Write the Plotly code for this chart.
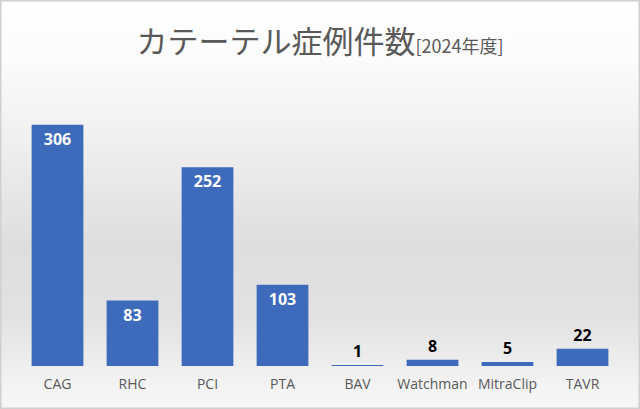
import plotly.graph_objects as go

categories = ["CAG", "RHC", "PCI", "PTA", "BAV", "Watchman", "MitraClip", "TAVR"]
counts = [306, 83, 252, 103, 1, 8, 5, 22]

# labels inside the bar where there is room, above it otherwise
label_pos = ["inside" if v > 50 else "outside" for v in counts]

fig = go.Figure()

# soft grey backdrop (decoration only, on its own full-page axes)
fig.add_trace(go.Scatter(
    x=[0, 1, 1, 0, 0], y=[0, 0, 1, 1, 0],
    mode="lines", line=dict(width=0), fill="toself",
    fillgradient=dict(type="vertical", colorscale=[
        [0.0, "#f7f7f7"], [0.06, "#f3f3f3"], [0.22, "#e2e2e2"],
        [0.4, "#dedede"], [0.65, "#efefef"], [0.85, "#fbfbfb"], [1.0, "#ffffff"]]),
    hoverinfo="skip", showlegend=False,
    xaxis="x", yaxis="y",
))

fig.add_trace(go.Bar(
    x=categories, y=counts,
    marker=dict(color="#3e6abc", line=dict(width=0)),
    text=counts, textposition=label_pos,
    insidetextanchor="end",
    outsidetextfont=dict(family="Open Sans", size=16, color="black", weight="bold"),
    insidetextfont=dict(family="Open Sans", size=16, color="white", weight="bold"),
    cliponaxis=False,
    xaxis="x2", yaxis="y2",
    showlegend=False,
))

fig.update_layout(
    width=640, height=409,
    margin=dict(l=0, r=0, t=0, b=0),
    paper_bgcolor="white",
    plot_bgcolor="rgba(0,0,0,0)",
    bargap=0.31,
    title=dict(
        text="カテーテル症例件数<span style='font-size:18px'>[2024年度]</span>",
        x=0.5, xanchor="center", y=1 - 42 / 409, yanchor="middle",
        font=dict(family="Noto Sans CJK JP", size=31, color="#595959"),
    ),
    xaxis=dict(domain=[0, 1], range=[0, 1], visible=False, fixedrange=True),
    yaxis=dict(domain=[0, 1], range=[0, 1], visible=False, fixedrange=True),
    xaxis2=dict(domain=[20 / 640, 620 / 640], anchor="y2",
                showline=False, showgrid=False, zeroline=False,
                ticks="", ticklabelstandoff=8,
                tickfont=dict(family="Open Sans", size=14, color="#595959")),
    yaxis2=dict(domain=[43 / 409, 1 - 90 / 409], anchor="x2", range=[0, 350],
                visible=False, showgrid=False, zeroline=False),
    shapes=[dict(type="rect", xref="paper", yref="paper",
                 x0=0, x1=1, y0=0, y1=1,
                 line=dict(color="#d0d0d0", width=3), layer="above")],
)

fig.write_html("out.html", config={"displayModeBar": False},
               post_script="document.body.style.margin='0';")
